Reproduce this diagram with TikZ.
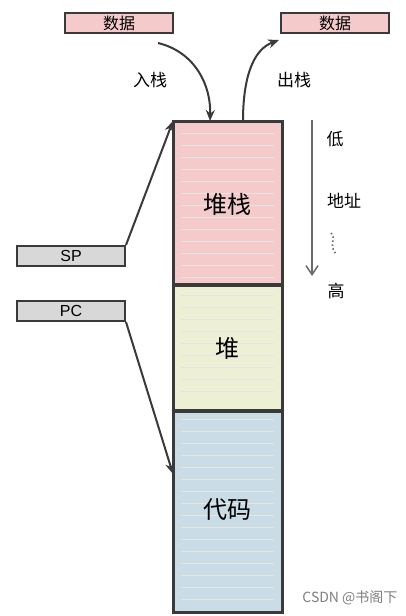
\documentclass[tikz,border=0pt]{standalone}
\usepackage{fontspec}
\setmainfont{Liberation Sans}
\newfontfamily\cjk{Noto Sans CJK SC}
\usetikzlibrary{arrows.meta,positioning}

\definecolor{edgegray}{HTML}{3A3A3A}
\definecolor{stackpink}{HTML}{F5CACA}
\definecolor{heapcream}{HTML}{EEF0D6}
\definecolor{codeblue}{HTML}{CADCE6}
\definecolor{regray}{HTML}{D8D8D8}
\definecolor{linegray}{HTML}{6A6A6A}

\tikzset{
  tag/.style={draw=edgegray, line width=2pt, minimum width=108pt, minimum height=20pt,
    inner sep=0pt, font=\cjk\fontsize{16}{16}\selectfont},
  block/.style={draw=edgegray, line width=2pt, minimum width=108pt, inner sep=0pt,
    anchor=north west},
  ruled/.style={white!80!gray, line width=0.6pt},
  arr/.style={draw=edgegray, line width=2pt, -{Stealth[length=11pt,width=9pt]}},
  side/.style={font=\cjk\fontsize{17}{17}\selectfont},
  big/.style={font=\cjk\fontsize{24}{24}\selectfont},
}

\begin{document}
\begin{tikzpicture}[x=1pt, y=-1pt]
  \useasboundingbox[fill=white] (0,0) rectangle (405,616);

  % memory column
  \node[block, fill=stackpink, minimum height=162pt] (stack) at (173,121) {};
  \node[block, fill=heapcream, minimum height=124pt] (heap) at (stack.south west) {};
  \node[block, fill=codeblue, minimum height=200pt] (code) at (heap.south west) {};
  \foreach \y in {133,145,...,277} \draw[ruled] (181,\y) -- (274,\y);
  \foreach \y in {295,307,...,401} \draw[ruled] (181,\y) -- (274,\y);
  \foreach \y in {419,431,...,601} \draw[ruled] (181,\y) -- (274,\y);
  \draw[edgegray, line width=2pt] (stack.north west) rectangle (code.south east);
  \draw[edgegray, line width=2pt] (stack.south west) -- (stack.south east);
  \draw[edgegray, line width=2pt] (heap.south west) -- (heap.south east);
  \node[big] at (227,204) {堆栈};
  \node[big] at (227,348) {堆};
  \node[big] at (227,510) {代码};

  % data boxes
  \node[tag, fill=stackpink] (dataL) at (119,23) {数据};
  \node[tag, fill=stackpink] (dataR) at (335,23) {数据};

  % registers
  \node[tag, fill=regray, font=\fontsize{16}{16}\selectfont] (sp) at (71,256) {SP};
  \node[tag, fill=regray, font=\fontsize{16}{16}\selectfont] (pc) at (71,311) {PC};

  % push / pop
  \draw[arr] ([xshift=-16pt,yshift=-9pt]dataL.south east)
    .. controls (195,52) and (211,85) .. ([xshift=37pt]stack.north west);
  \draw[arr] ([xshift=70pt]stack.north west)
    .. controls (243,80) and (252,50) .. ([xshift=-1pt,yshift=-6pt]dataR.south west);
  \node[side] (push) at (150,80) {入栈};
  \node[side] (pop) at (294,80) {出栈};

  % pointers
  \draw[arr] (sp.north east) -- (stack.north west);
  \draw[arr] (pc.south east) -- ([yshift=-63pt]code.north west);

  % address direction
  \coordinate (lo) at (312,120);
  \coordinate (hi) at (312,276);
  \draw[linegray, line width=1.5pt, -{Straight Barb[length=9pt,width=12pt]}] (lo) -- (hi);
  \node[side] (low) at (335,139) {低};
  \node[side] (addr) at (344,201) {地址};
  \draw[linegray, line width=1.6pt, dash pattern=on 1.5pt off 2.5pt]
    (331,233) .. controls (337,239) and (328,245) .. (336,254);
  \node[side] (high) at (336,291) {高};

  \node[font=\cjk\fontsize{14}{14}\selectfont, text=gray, anchor=east] (mark) at (401,598) {CSDN @书阁下};
\end{tikzpicture}
\end{document}
